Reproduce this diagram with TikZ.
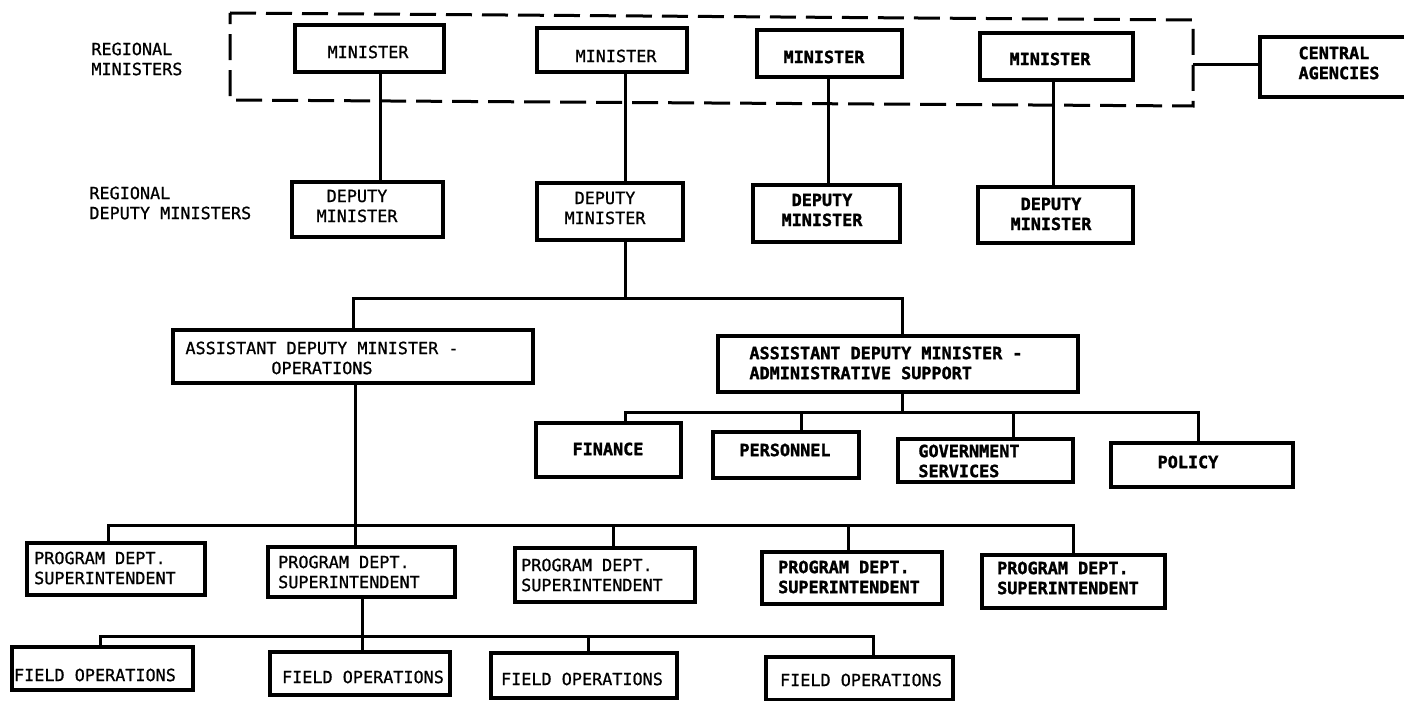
\documentclass[tikz,border=0pt]{standalone}
\usepackage{fontspec}
\newfontfamily\gothic[RawFeature={embolden=0.9}]{DejaVu Sans Mono}
\newfontfamily\gothicheavy[RawFeature={embolden=1.6}]{DejaVu Sans Mono Bold}
\begin{document}
\begin{tikzpicture}[x=0.5pt,y=-0.5pt,
  box/.style={draw,line width=1.6pt,inner sep=0pt},
  sz/.style 2 args={minimum width={#1*0.5pt},minimum height={#2*0.5pt}},
  txt/.style={font=\gothic\fontsize{8.4}{10}\selectfont,inner sep=0pt,align=center},
  txtl/.style={txt,align=left},
  heavy/.style={font=\gothicheavy\fontsize{8.4}{10}\selectfont},
  conn/.style={line width=1.5pt},
  dashbox/.style={line width=1.5pt,dash pattern=on 13pt off 5pt}]
\useasboundingbox (0,0) rectangle (1404,701);

% row labels
\node[txtl,anchor=west] (lblmin) at (91,59) {REGIONAL\\MINISTERS};
\node[txtl,anchor=west] (lbldep) at (89,203) {REGIONAL\\DEPUTY MINISTERS};

% regional ministers group
\draw[dashbox] (230,13) -- (1193,20) -- (1193,106) -- (230,100) -- cycle;
\coordinate (grpR) at (1193,65);

% ministers
\node[box,sz={149}{47}] (M1) at (369.5,48.5) {};
\node[txt] (tM1) at (368,52) {MINISTER};
\node[box,sz={150}{44}] (M2) at (612,50) {};
\node[txt] (tM2) at (616,56) {MINISTER};
\node[box,sz={145}{47}] (M3) at (829.5,53.5) {};
\node[txt,heavy] (tM3) at (824,57) {MINISTER};
\node[box,sz={153}{47}] (M4) at (1056.5,56.5) {};
\node[txt,heavy] (tM4) at (1050,59) {MINISTER};

% central agencies (box runs past the right edge)
\node[box,sz={170}{60}] (CA) at (1345,67) {};
\node[txtl,heavy] (tCA) at (1339,63) {CENTRAL\\AGENCIES};
\draw[conn] (grpR) -- (grpR -| CA.west);

% deputy ministers
\node[box,sz={151}{55}] (D1) at (367.5,209.5) {};
\node[txt] (tD1) at (357,206) {DEPUTY\\MINISTER};
\node[box,sz={146}{57}] (D2) at (610,211.5) {};
\node[txt] (tD2) at (605,208) {DEPUTY\\MINISTER};
\node[box,sz={147}{57}] (D3) at (826.5,213.5) {};
\node[txt,heavy] (tD3) at (822,210) {DEPUTY\\MINISTER};
\node[box,sz={155}{56}] (D4) at (1055.5,215) {};
\node[txt,heavy] (tD4) at (1051,214) {DEPUTY\\MINISTER};

% connector columns
\coordinate (k1) at (380,0);
\coordinate (k2) at (625,0);
\coordinate (k3) at (828,0);
\coordinate (k4) at (1053,0);
\draw[conn] (k1 |- M1.south) -- (k1 |- D1.north);
\draw[conn] (k2 |- M2.south) -- (k2 |- D2.north);
\draw[conn] (k3 |- M3.south) -- (k3 |- D3.north);
\draw[conn] (k4 |- M4.south) -- (k4 |- D4.north);

% assistant deputy ministers
\node[box,sz={360}{53}] (ADMO) at (353,356.5) {};
\node[txt] (tADMO) at (322,358) {ASSISTANT DEPUTY MINISTER -\\OPERATIONS};
\node[box,sz={360}{56}] (ADMA) at (898,364) {};
\node[txtl,heavy] (tADMA) at (886,363) {ASSISTANT DEPUTY MINISTER -\\ADMINISTRATIVE SUPPORT};

\coordinate (busA) at (0,298);
\coordinate (ka1) at (353,0);
\coordinate (ka2) at (902,0);
\draw[conn] (k2 |- D2.south) -- (k2 |- busA);
\draw[conn] (ka1 |- ADMO.north) -- (ka1 |- busA) -- (ka2 |- busA) -- (ka2 |- ADMA.north);

% administrative support units
\node[box,sz={145}{54}] (FIN) at (608.5,450) {};
\node[txt,heavy] (tFIN) at (608,449) {FINANCE};
\node[box,sz={146}{46}] (PER) at (786,455) {};
\node[txt,heavy] (tPER) at (785,450) {PERSONNEL};
\node[box,sz={175}{43}] (GOV) at (985.5,460.5) {};
\node[txtl,heavy] (tGOV) at (969,461) {GOVERNMENT\\SERVICES};
\node[box,sz={182}{44}] (POL) at (1202,465) {};
\node[txt,heavy] (tPOL) at (1188,462) {POLICY};

\coordinate (busB) at (0,412);
\coordinate (kb1) at (625,0);
\coordinate (kb2) at (801,0);
\coordinate (kb3) at (1013,0);
\coordinate (kb4) at (1198,0);
\draw[conn] (ka2 |- ADMA.south) -- (ka2 |- busB);
\draw[conn] (kb1 |- FIN.north) -- (kb1 |- busB) -- (kb4 |- busB) -- (kb4 |- POL.north);
\draw[conn] (kb2 |- busB) -- (kb2 |- PER.north);
\draw[conn] (kb3 |- busB) -- (kb3 |- GOV.north);

% program department superintendents
\node[box,sz={178}{52}] (P1) at (116,569) {};
\node[txtl] (tP1) at (105,568) {PROGRAM DEPT.\\SUPERINTENDENT};
\node[box,sz={187}{50}] (P2) at (361.5,572) {};
\node[txtl] (tP2) at (349,572) {PROGRAM DEPT.\\SUPERINTENDENT};
\node[box,sz={180}{54}] (P3) at (605,575) {};
\node[txtl] (tP3) at (592,575) {PROGRAM DEPT.\\SUPERINTENDENT};
\node[box,sz={180}{52}] (P4) at (852,578) {};
\node[txtl,heavy] (tP4) at (849,577) {PROGRAM DEPT.\\SUPERINTENDENT};
\node[box,sz={183}{53}] (P5) at (1073.5,581.5) {};
\node[txtl,heavy] (tP5) at (1068,578) {PROGRAM DEPT.\\SUPERINTENDENT};

\coordinate (busC) at (0,525);
\coordinate (kc1) at (108,0);
\coordinate (kc2) at (355,0);
\coordinate (kc3) at (613,0);
\coordinate (kc4) at (848,0);
\coordinate (kc5) at (1073,0);
\draw[conn] (kc2 |- ADMO.south) -- (kc2 |- P2.north);
\draw[conn] (kc1 |- P1.north) -- (kc1 |- busC) -- (kc5 |- busC) -- (kc5 |- P5.north);
\draw[conn] (kc3 |- busC) -- (kc3 |- P3.north);
\draw[conn] (kc4 |- busC) -- (kc4 |- P4.north);

% field operations
\node[box,sz={181}{43}] (F1) at (102.5,668.5) {};
\node[txt] (tF1) at (95,675) {FIELD OPERATIONS};
\node[box,sz={180}{43}] (F2) at (360,673.5) {};
\node[txt] (tF2) at (363,677) {FIELD OPERATIONS};
\node[box,sz={186}{45}] (F3) at (584,675.5) {};
\node[txt] (tF3) at (582,679) {FIELD OPERATIONS};
\node[box,sz={187}{43}] (F4) at (859.5,678.5) {};
\node[txt] (tF4) at (861,680) {FIELD OPERATIONS};

\coordinate (busD) at (0,636);
\coordinate (kd1) at (100,0);
\coordinate (kd2) at (362,0);
\coordinate (kd3) at (588,0);
\coordinate (kd4) at (873,0);
\draw[conn] (kd2 |- P2.south) -- (kd2 |- F2.north);
\draw[conn] (kd1 |- F1.north) -- (kd1 |- busD) -- (kd4 |- busD) -- (kd4 |- F4.north);
\draw[conn] (kd3 |- busD) -- (kd3 |- F3.north);
\end{tikzpicture}
\end{document}
